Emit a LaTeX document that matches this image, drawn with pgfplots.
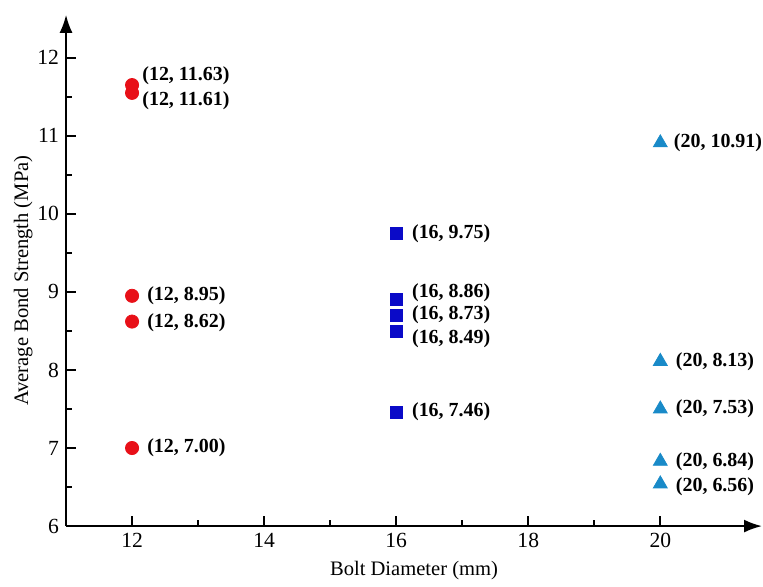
\documentclass[border=0pt]{standalone}
\usepackage{fontspec}
\setmainfont{Liberation Serif}
\usepackage{pgfplots}
\pgfplotsset{compat=1.18}
\usetikzlibrary{arrows.meta}
\definecolor{cred}{RGB}{232,16,24}
\definecolor{cblue}{RGB}{10,10,200}
\definecolor{ctri}{RGB}{25,138,200}
\begin{document}
\begin{tikzpicture}
\begin{axis}[
  scale only axis,
  width=348.5pt, height=256pt,
  xmin=11, xmax=21.54, ymin=6, ymax=12.55,
  axis lines=left,
  axis line style={line width=1pt, -{Latex[length=9pt,width=6.5pt]}},
  xtick={12,14,16,18,20}, ytick={6,7,8,9,10,11,12},
  minor tick num=1,
  tick align=inside,
  major tick length=5pt, minor tick length=3pt,
  tick style={line width=0.9pt, black},
  /pgf/number format/assume math mode=true,
  tick label style={font=\fontsize{10.8}{12}\selectfont},
  xlabel={Bolt Diameter (mm)}, ylabel={Average Bond Strength (MPa)},
  label style={font=\fontsize{10.3}{12}\selectfont},
  ylabel style={at={(ticklabel cs:0.48)}, yshift=-4.5pt},
  clip=false,
]
\addplot[only marks, mark=*, mark size=3.3pt, color=cred] coordinates {
 (12,11.65) (12,11.55) (12,8.95) (12,8.62) (12,7.00)};
\addplot[only marks, mark=square*, mark size=3pt, color=cblue] coordinates {
 (16,9.75) (16,8.90) (16,8.70) (16,8.49) (16,7.46)};
\addplot[only marks, mark=triangle*, mark size=4pt, color=ctri] coordinates {
 (20,10.91) (20,8.11) (20,7.50) (20,6.83) (20,6.54)};
\begin{scope}[every node/.style={anchor=west, inner sep=0pt, font=\fontsize{10}{12}\selectfont\bfseries}]
\node at (axis cs:12.15,11.77) {(12, 11.63)};
\node at (axis cs:12.15,11.45) {(12, 11.61)};
\node at (axis cs:12.225,8.95) {(12, 8.95)};
\node at (axis cs:12.225,8.61) {(12, 8.62)};
\node at (axis cs:12.225,7.00) {(12, 7.00)};
\node at (axis cs:16.235,9.75) {(16, 9.75)};
\node at (axis cs:16.235,8.99) {(16, 8.86)};
\node at (axis cs:16.235,8.71) {(16, 8.73)};
\node at (axis cs:16.235,8.40) {(16, 8.49)};
\node at (axis cs:16.235,7.47) {(16, 7.46)};
\node at (axis cs:20.20,10.91) {(20, 10.91)};
\node at (axis cs:20.23,8.11) {(20, 8.13)};
\node at (axis cs:20.23,7.50) {(20, 7.53)};
\node at (axis cs:20.23,6.82) {(20, 6.84)};
\node at (axis cs:20.23,6.50) {(20, 6.56)};
\end{scope}
\path (axis cs:10.0,12.74) rectangle (axis cs:21.54,5.36);
\end{axis}
\end{tikzpicture}
\end{document}
